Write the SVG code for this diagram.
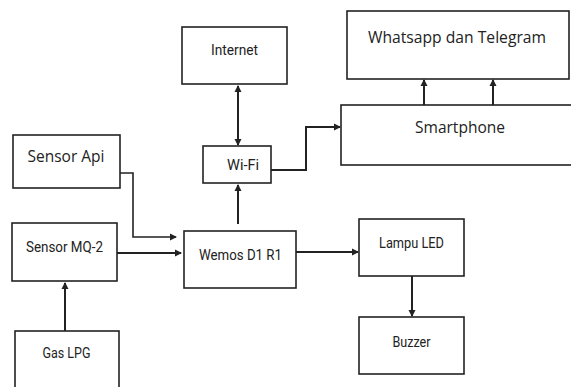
<svg xmlns="http://www.w3.org/2000/svg" width="571" height="387" viewBox="0 0 571 387">
<style>
.box{fill:#fff;stroke:#222;stroke-width:1.6}
.ln{fill:none;stroke:#222;stroke-width:2}
.t1{font-family:"Open Sans","Liberation Sans",sans-serif;font-size:15.5px;fill:#222;text-anchor:middle}
.t2{font-family:Roboto,"Liberation Sans",sans-serif;font-size:14px;fill:#222;text-anchor:middle}
</style>
<defs>
<marker id="ah" markerWidth="8" markerHeight="8" refX="6" refY="4" orient="auto" markerUnits="userSpaceOnUse">
<path d="M0,0.5 L7,4 L0,7.5 z" fill="#222"/>
</marker>
<marker id="as" markerWidth="8" markerHeight="8" refX="1" refY="4" orient="auto" markerUnits="userSpaceOnUse">
<path d="M7,0.5 L0,4 L7,7.5 z" fill="#222"/>
</marker>
</defs>
<rect width="571" height="387" fill="#fff"/>
<g id="connectors">
<line class="ln" x1="238" y1="86" x2="238" y2="145" marker-start="url(#as)" marker-end="url(#ah)"/>
<line class="ln" x1="238" y1="224" x2="238" y2="185" marker-end="url(#ah)"/>
<polyline class="ln" points="120,173 133,173 133,237 176,237" marker-end="url(#ah)" style="stroke-width:1.6"/>
<line class="ln" x1="117" y1="253" x2="181" y2="253" marker-end="url(#ah)"/>
<line class="ln" x1="65" y1="331" x2="65" y2="283" marker-end="url(#ah)"/>
<line class="ln" x1="296" y1="252" x2="358" y2="252" marker-end="url(#ah)"/>
<line class="ln" x1="412" y1="276" x2="412" y2="316" marker-end="url(#ah)"/>
<polyline class="ln" points="271,170 306,170 306,127 340,127" marker-end="url(#ah)"/>
<line class="ln" x1="424" y1="105" x2="424" y2="80" marker-end="url(#ah)"/>
<line class="ln" x1="493" y1="105" x2="493" y2="80" marker-end="url(#ah)"/>
</g>
<g id="internet"><rect class="box" x="182" y="27" width="105" height="57"/><text class="t2" x="234.5" y="55" textLength="47" lengthAdjust="spacingAndGlyphs">Internet</text></g>
<g id="wifi"><rect class="box" x="203" y="146" width="68" height="37"/><text class="t2" x="243" y="170" textLength="32" lengthAdjust="spacingAndGlyphs">Wi-Fi</text></g>
<g id="sensor-api"><rect class="box" x="13" y="135" width="107" height="53"/><text class="t1" x="66" y="162" textLength="77" lengthAdjust="spacingAndGlyphs">Sensor Api</text></g>
<g id="wemos"><rect class="box" x="184" y="231" width="112" height="57"/><text class="t2" x="240.5" y="260" textLength="83" lengthAdjust="spacingAndGlyphs">Wemos D1 R1</text></g>
<g id="sensor-mq2"><rect class="box" x="12" y="223" width="105" height="58"/><text class="t2" x="64.5" y="252" textLength="77" lengthAdjust="spacingAndGlyphs">Sensor MQ-2</text></g>
<g id="gas-lpg"><rect class="box" x="15" y="331" width="104" height="70"/><text class="t2" x="66.5" y="358" textLength="48" lengthAdjust="spacingAndGlyphs">Gas LPG</text></g>
<g id="lampu-led"><rect class="box" x="359" y="219" width="105" height="57"/><text class="t2" x="411.5" y="248" textLength="65" lengthAdjust="spacingAndGlyphs">Lampu LED</text></g>
<g id="buzzer"><rect class="box" x="359" y="317" width="105" height="57"/><text class="t2" x="411.5" y="347" textLength="38" lengthAdjust="spacingAndGlyphs">Buzzer</text></g>
<g id="whatsapp"><rect class="box" x="347" y="11" width="222" height="68"/><text class="t1" x="457" y="43" textLength="178" lengthAdjust="spacingAndGlyphs">Whatsapp dan Telegram</text></g>
<g id="smartphone"><rect class="box" x="341" y="105" width="240" height="60"/><text class="t1" x="460" y="133" textLength="90" lengthAdjust="spacingAndGlyphs">Smartphone</text></g>
</svg>
